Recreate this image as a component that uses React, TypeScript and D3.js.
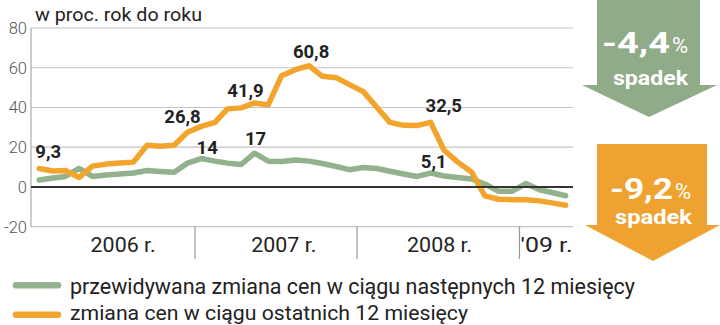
import React from "react";
import * as d3 from "d3";

const W = 720;
const H = 325;

const startMonth = new Date(2006, 0, 15);
const expected = [3.5, 4.5, 5.3, 9.3, 5.3, 6, 6.5, 7, 8.3, 7.8, 7.4, 12, 14.3, 13, 12, 11.3, 17, 13, 12.8, 13.6, 13, 11.8, 10.3, 8.7, 9.8, 9.3, 7.9, 6.5, 5.3, 7, 5.5, 4.8, 4, 1.5, -2.2, -2.2, 1.7, -1.4, -2.8, -4.4];
const recent = [9.3, 8, 8.3, 4.8, 10.5, 11.5, 12, 12.5, 21, 20.5, 21, 27.5, 30.5, 32.5, 39.3, 39.8, 42.3, 41.3, 56, 59, 61, 55.7, 55, 51.5, 48, 40, 32.5, 31, 30.9, 32.5, 18.5, 12.5, 7.5, -4.5, -6.2, -6.4, -6.4, -7, -8, -9.2];

const yTicks = [80, 60, 40, 20, 0, -20];
const yearBounds = [new Date(2007, 0, 1), new Date(2008, 0, 1), new Date(2009, 0, 1)];
const yearLabels = ["2006 r.", "2007 r.", "2008 r.", "'09 r."];
const yearLabelDates = [new Date(2006, 6, 23), new Date(2007, 6, 20), new Date(2008, 6, 5), new Date(2009, 2, 3)];
const yearLabelWidths = [65, 65, 65, 52];

// annotated values: [series, month index, text]
const annotations: [string, number, string][] = [
  ["recent", 0, "9,3"],
  ["recent", 11, "26,8"],
  ["recent", 16, "41,9"],
  ["recent", 20, "60,8"],
  ["recent", 29, "32,5"],
  ["expected", 12, "14"],
  ["expected", 16, "17"],
  ["expected", 29, "5,1"],
];
const annotationDx = [9, -5, -9, 2, 13, 6, 1, 3];
const annotationDy = [-10, -9, -6, -8, -10, -5, -8, -5.5];

const legendLabels = [
  "przewidywana zmiana cen w ciągu następnych 12 miesięcy",
  "zmiana cen w ciągu ostatnich 12 miesięcy",
];
const legendWidths = [565, 398];
const arrowValues = ["-4,4", "-9,2"];
const arrowWord = "spadek";

const GREEN = "#92b18c";
const ORANGE = "#f2a42c";
const GREEN_ARROW = "#8fab88";
const ORANGE_ARROW = "#f0a230";
const FONT = "Roboto, 'DejaVu Sans', sans-serif";

export default function App() {
  const dates = expected.map((_, i) => d3.timeMonth.offset(startMonth, i));
  const x = d3
    .scaleTime()
    .domain([new Date(2006, 0, 1), new Date(2009, 0, 1)])
    .range([33, 519.5]);
  const y = d3.scaleLinear().domain([-20, 80]).range([226.7, 28]);
  const left = 31;
  const right = 573;

  const line = d3
    .line<number>()
    .x((_, i) => x(dates[i]))
    .y((d) => y(d))
    .curve(d3.curveLinear);

  const series: Record<string, number[]> = { recent, expected };

  return (
    <svg width={W} height={H} style={{ position: "absolute", left: 0, top: 0, background: "#fff" }} fontFamily={FONT}>
      {/* title */}
      <text x={35} y={21} fontSize={18} fill="#222" textLength={167} lengthAdjust="spacingAndGlyphs">w proc. rok do roku</text>

      {/* grid */}
      {yTicks.map((t) => (
        <g key={t}>
          {t !== 0 && (
            <line x1={left} x2={right} y1={y(t)} y2={y(t)} stroke="#c4c4c4" strokeWidth={1.2} />
          )}
          <text x={27} y={y(t)} dy="0.36em" textAnchor="end" fontSize={16.5} fill="#555" fontWeight={300}>
            {t}
          </text>
        </g>
      ))}
      <line x1={left} x2={left} y1={y(80)} y2={y(-20)} stroke="#aaa" strokeWidth={1.2} />

      {/* year separators */}
      {yearBounds.map((d, i) => (
        <line key={i} x1={x(d)} x2={x(d)} y1={y(-20)} y2={259} stroke="#999" strokeWidth={1.2} />
      ))}
      {yearLabels.map((l, i) => (
        <text
          key={l}
          x={x(yearLabelDates[i]) - yearLabelWidths[i] / 2}
          y={252}
          fontSize={20}
          fill="#222"
          textLength={yearLabelWidths[i]}
          lengthAdjust="spacingAndGlyphs"
        >
          {l}
        </text>
      ))}

      {/* lines */}
      <path d={line(expected) || ""} fill="none" stroke={GREEN} strokeWidth={5.5} strokeLinejoin="round" strokeLinecap="round" />
      <path d={line(recent) || ""} fill="none" stroke={ORANGE} strokeWidth={5.5} strokeLinejoin="round" strokeLinecap="round" />
      <line x1={left} x2={right} y1={y(0)} y2={y(0)} stroke="#333" strokeWidth={2} />

      {/* annotations */}
      {annotations.map(([s, i, t], k) => (
        <text
          key={k}
          x={x(dates[i]) + annotationDx[k]}
          y={y(series[s][i]) + annotationDy[k]}
          textAnchor="middle"
          fontSize={18.5}
          fontWeight={700}
          fill="#222"
        >
          {t}
        </text>
      ))}

      {/* arrows */}
      <path d="M597,0 L700,0 L700,85 L717,85 L649,117 L582,85 L597,85 Z" fill={GREEN_ARROW} />
      <text x={602} y={53} fill="#fff" fontWeight={700} fontSize={29} textLength={68} lengthAdjust="spacingAndGlyphs">
        {arrowValues[0]}
      </text>
      <text x={672} y={53} fill="#fff" fontSize={22}>%</text>
      <text x={613} y={85} fill="#fff" fontWeight={700} fontSize={21} textLength={75} lengthAdjust="spacingAndGlyphs">
        {arrowWord}
      </text>

      <path d="M597,144 L707,144 L707,225 L720,225 L653,261 L585,225 L597,225 Z" fill={ORANGE_ARROW} />
      <text x={610} y={199} fill="#fff" fontWeight={700} fontSize={30} textLength={63} lengthAdjust="spacingAndGlyphs">
        {arrowValues[1]}
      </text>
      <text x={675} y={199} fill="#fff" fontSize={22}>%</text>
      <text x={615} y={224} fill="#fff" fontWeight={700} fontSize={21} textLength={77} lengthAdjust="spacingAndGlyphs">
        {arrowWord}
      </text>

      {/* legend */}
      <line x1={16} x2={58} y1={285.3} y2={285.3} stroke={GREEN} strokeWidth={6.5} strokeLinecap="round" />
      <text x={70} y={293.5} fontSize={21.5} fill="#222" textLength={legendWidths[0]} lengthAdjust="spacingAndGlyphs">{legendLabels[0]}</text>
      <line x1={16} x2={58} y1={314.7} y2={314.7} stroke={ORANGE} strokeWidth={6.5} strokeLinecap="round" />
      <text x={70} y={319.5} fontSize={21} fill="#222" textLength={legendWidths[1]} lengthAdjust="spacingAndGlyphs">{legendLabels[1]}</text>
    </svg>
  );
}
